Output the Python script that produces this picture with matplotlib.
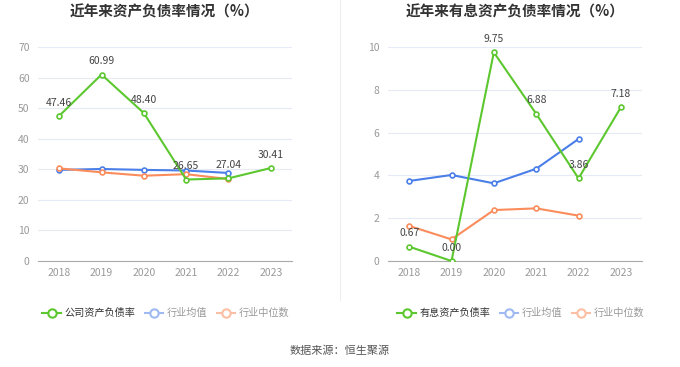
import matplotlib
matplotlib.use("Agg")
import matplotlib.pyplot as plt
from matplotlib.lines import Line2D

plt.rcParams['font.family'] = ['Noto Sans CJK SC', 'DejaVu Sans']

years = ["2018", "2019", "2020", "2021", "2022", "2023"]

# Left chart: asset-liability ratio
company_ratio = [47.46, 60.99, 48.40, 26.65, 27.04, 30.41]
industry_mean = [29.8, 30.1, 29.8, 29.6, 28.8]
industry_median = [30.3, 29.0, 27.9, 28.4, 26.8]

# Right chart: interest-bearing asset-liability ratio
ib_ratio = [0.67, 0.00, 9.75, 6.88, 3.86, 7.18]
ib_mean = [3.74, 4.02, 3.63, 4.31, 5.70]
ib_median = [1.64, 1.01, 2.38, 2.46, 2.12]

titles = ["近年来资产负债率情况（%）", "近年来有息资产负债率情况（%）"]
legend_labels = [["公司资产负债率", "行业均值", "行业中位数"],
                 ["有息资产负债率", "行业均值", "行业中位数"]]

GREEN = "#5cc72e"
BLUE = "#4a7ee8"
ORANGE = "#fb8c5c"

fig = plt.figure(figsize=(6.8, 3.67), dpi=100)

def draw(ax, main, mean, med, ymax, step, title):
    x = list(range(len(years)))
    ax.plot(x[:len(mean)], mean, color=BLUE, lw=1.5, marker='o', ms=3.5,
            mfc='white', mec=BLUE, mew=1.2, zorder=3)
    ax.plot(x[:len(med)], med, color=ORANGE, lw=1.5, marker='o', ms=3.5,
            mfc='white', mec=ORANGE, mew=1.2, zorder=3)
    ax.plot(x, main, color=GREEN, lw=1.5, marker='o', ms=3.5,
            mfc='white', mec=GREEN, mew=1.2, zorder=4)
    for xi, v in zip(x, main):
        ax.annotate(f"{v:.2f}", (xi, v), xytext=(0, 6), textcoords='offset points',
                    ha='center', va='bottom', fontsize=7.5, color='#444444', zorder=5)
    ax.set_xlim(-0.5, len(years) - 0.5)
    ax.set_ylim(0, ymax)
    ax.set_yticks([i * step for i in range(int(ymax / step) + 1)])
    ax.set_xticks(x)
    ax.set_xticklabels(years)
    ax.grid(axis='y', color='#e6eaf4', lw=0.8)
    ax.set_axisbelow(True)
    for s in ['top', 'right', 'left']:
        ax.spines[s].set_visible(False)
    ax.spines['bottom'].set_color('#aaaaaa')
    ax.tick_params(axis='y', length=0, labelsize=7.5, labelcolor='#999999', pad=6)
    ax.tick_params(axis='x', length=0, labelsize=7.5, labelcolor='#999999', pad=5)
    ax.set_title(title, fontsize=10.5, fontweight='bold', color='#333333', pad=22)

ax1 = fig.add_axes([38/680, 1-261/367, 254/680, 214/367])
draw(ax1, company_ratio, industry_mean, industry_median, 70, 10, titles[0])
ax2 = fig.add_axes([388/680, 1-261/367, 254/680, 214/367])
draw(ax2, ib_ratio, ib_mean, ib_median, 10, 2, titles[1])

# separator
fig.add_artist(Line2D([340/680, 340/680], [1-0/367, 1-300/367], color='#eeeeee', lw=0.8))

def legend(cx, labels):
    handles = [
        Line2D([0], [0], color=GREEN, lw=1.5, marker='o', ms=6, mfc='white', mec=GREEN, mew=1.5),
        Line2D([0], [0], color='#9fbaf3', lw=1.5, marker='o', ms=6, mfc='white', mec='#9fbaf3', mew=1.5),
        Line2D([0], [0], color='#fdbfa3', lw=1.5, marker='o', ms=6, mfc='white', mec='#fdbfa3', mew=1.5),
    ]
    leg = fig.legend(handles, labels, loc='center', bbox_to_anchor=(cx, 1-313/367),
                     ncol=3, frameon=False, fontsize=7.3, handlelength=1.8,
                     handletextpad=0.4, columnspacing=0.9)
    cols = ['#333333', '#999999', '#999999']
    for t, c in zip(leg.get_texts(), cols):
        t.set_color(c)

legend(166/680, legend_labels[0])
legend(521/680, legend_labels[1])

fig.text(0.5, 1-351/367, "数据来源：恒生聚源", ha='center', va='center', fontsize=8, color='#555555')

fig.savefig("out.png", dpi=100)
